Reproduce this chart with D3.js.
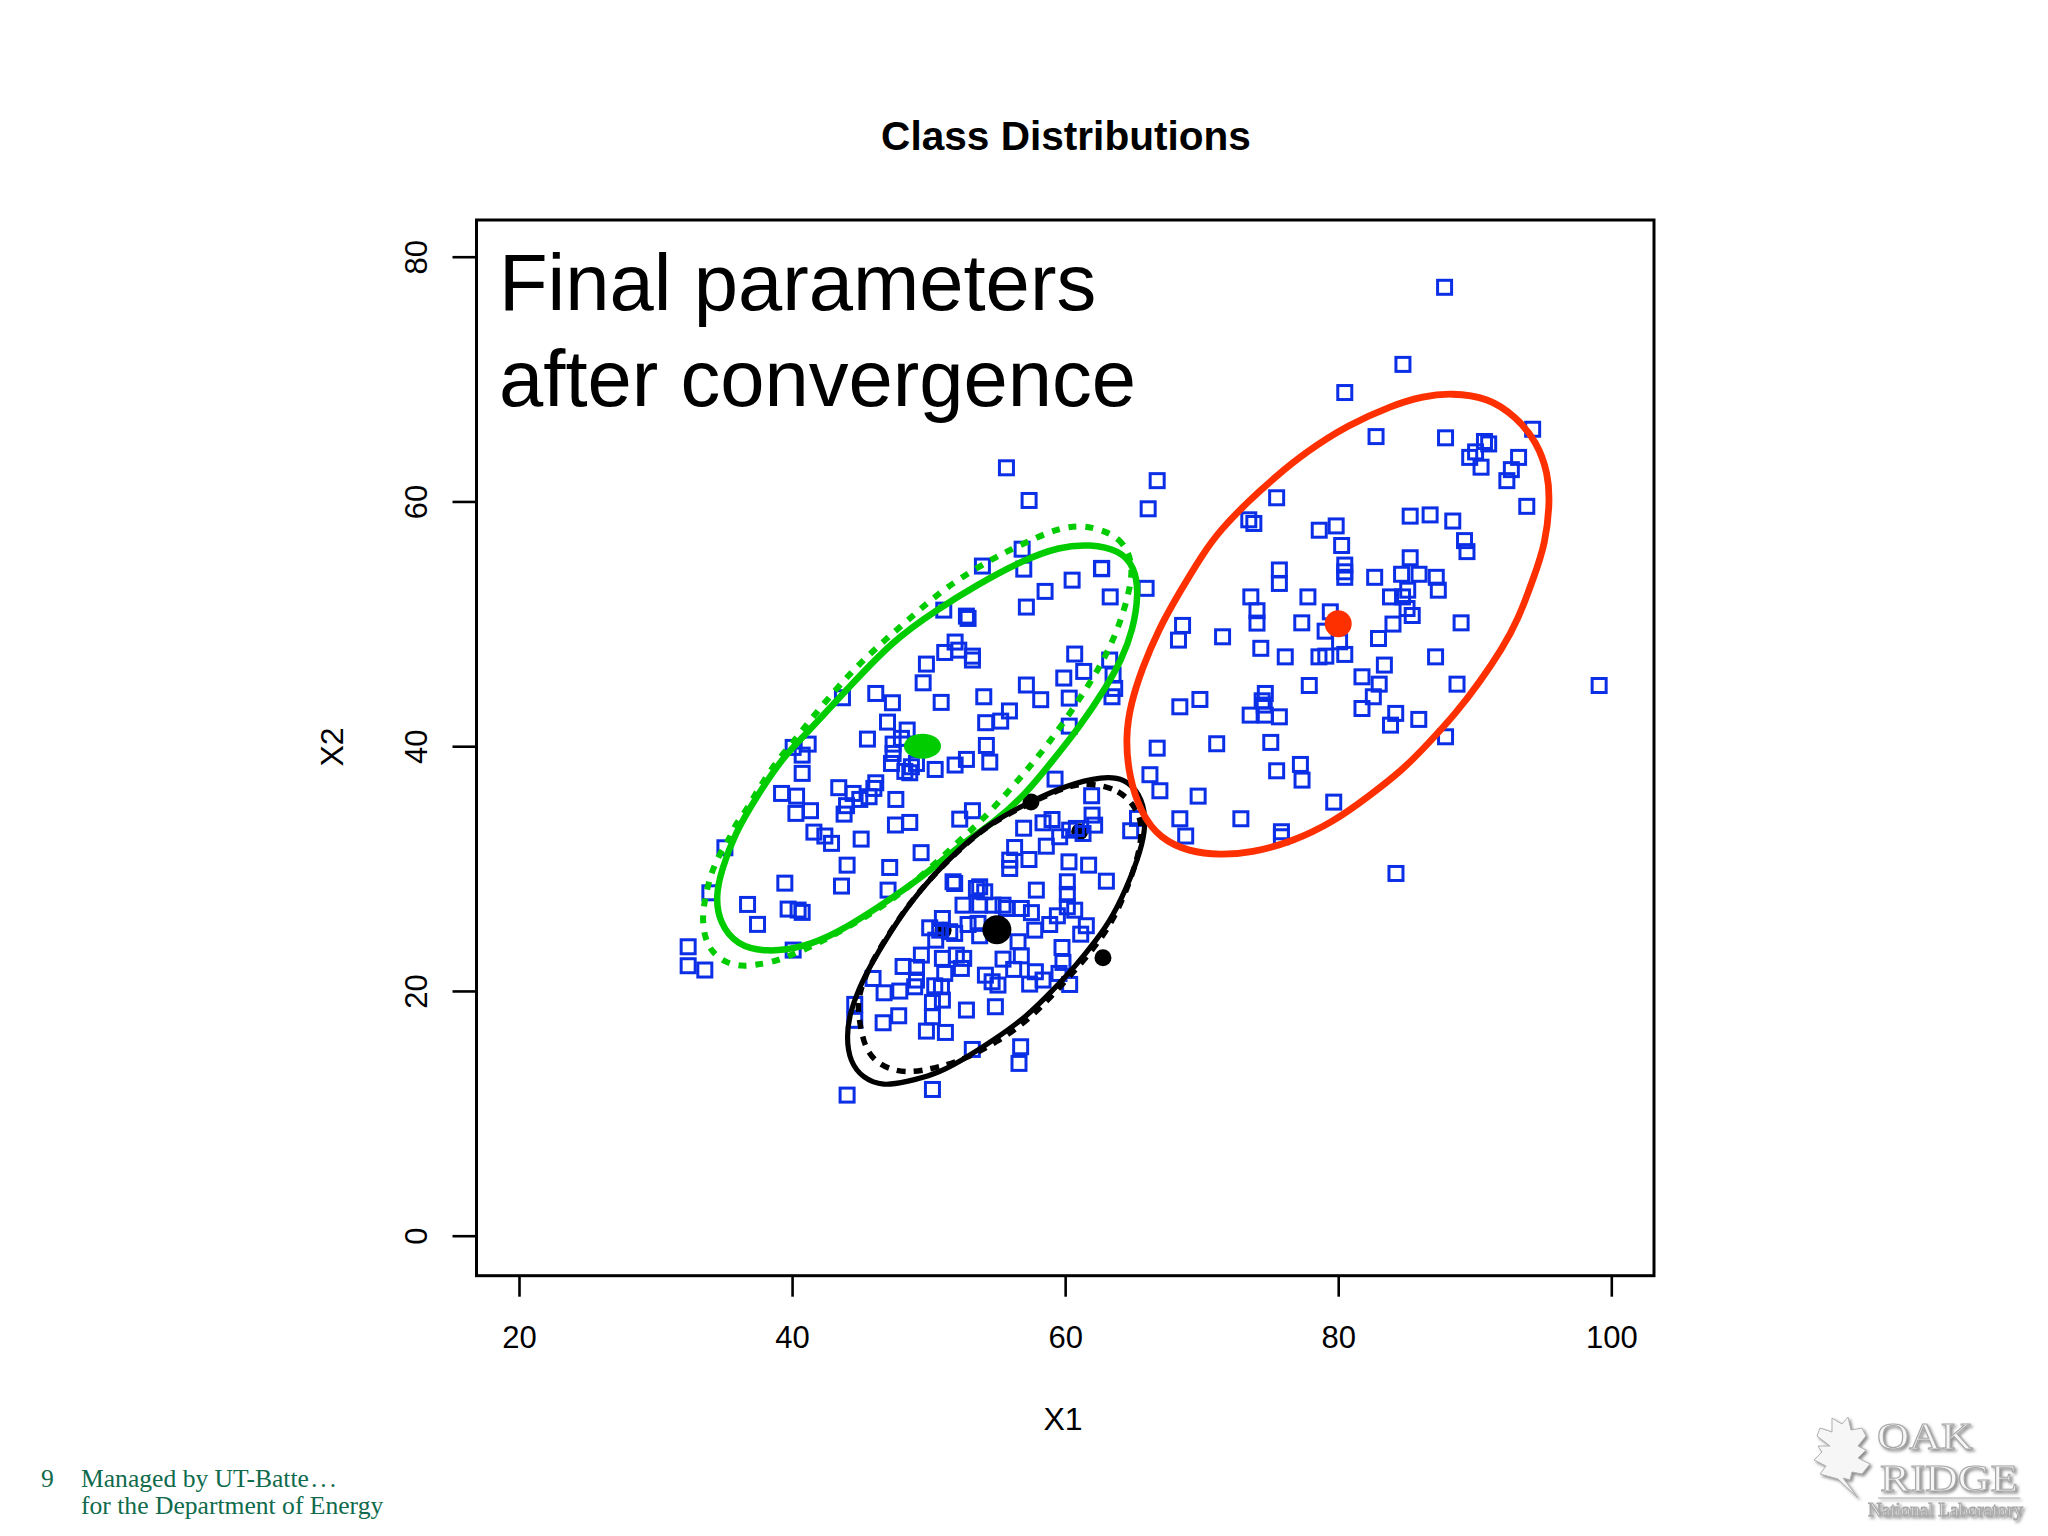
<!DOCTYPE html>
<html>
<head>
<meta charset="utf-8">
<script src="https://cdn.jsdelivr.net/npm/d3@7"></script>
<style>
  html, body { margin: 0; padding: 0; background: #fff; }
  svg { display: block; }
  text { font-family: "Liberation Sans", Arial, sans-serif; fill: #000; }
</style>
</head>
<body>
<svg id="chart" width="2048" height="1536"></svg>
<script>
// x1, x2
const rightPts = [
  [87.79,77.5],[84.74,71.2],[80.48,68.9],[66.74,61.7],[66.08,59.4],[94.24,65.9],[82.77,65.3],[87.86,65.2],
  [90.71,64.9],[91.02,64.7],[90.06,64.05],[89.63,63.6],[90.46,62.8],[93.21,63.6],[92.68,62.6],[92.35,61.7],
  [93.81,59.6],[75.49,60.3],[73.45,58.5],[73.82,58.2],[78.61,57.65],[79.85,58.0],[80.25,56.4],[75.69,54.4],
  [75.69,53.3],[80.48,54.8],[80.48,54.25],[80.48,53.8],[85.27,58.8],[86.73,58.9],[88.39,58.4],[89.25,56.8],
  [89.43,55.9],[85.27,55.4],[82.67,53.8],[84.64,54.05],[85.92,54.05],[87.18,53.8],[87.33,52.75],[85.09,52.75],
  [83.83,52.2],[84.71,52.2],[73.6,52.2],[77.78,52.2],[65.93,52.9],[85.04,51.25],[85.42,50.68],[74.05,51.07],
  [74.05,50.06],[79.42,50.98],[77.33,50.08],[79.04,49.4],[84.01,49.98],[89.0,50.08],[82.95,48.8],[68.6,49.87],
  [68.3,48.67],[71.53,48.94],[74.33,48.0],[76.12,47.3],[80.1,48.53],[78.59,47.3],[79.09,47.36],[80.48,47.5],
  [87.13,47.3],[83.38,46.63],[81.74,45.67],[83.0,45.07],[88.7,45.07],[99.11,44.96],[82.57,44.04],[81.74,43.08],
  [84.21,42.68],[83.83,41.72],[85.9,42.19],[87.86,40.77],[77.88,44.96],[74.66,44.31],[74.43,43.71],[74.58,43.36],
  [69.87,43.82],[68.4,43.22],[73.55,42.54],[74.66,42.54],[75.69,42.4],[66.74,39.84],[71.1,40.2],[75.06,40.31],
  [66.21,37.67],[66.94,36.36],[75.49,37.99],[77.23,38.51],[77.35,37.23],[69.74,35.92],[79.67,35.43],[72.87,34.07],
  [68.4,34.07],[68.83,32.66],[75.84,33.01],[75.84,32.6],[84.23,29.6],[64.8,33.09],[65.3,34.1]
];
const upperPts = [
  [55.7,62.75],[57.36,60.08],[56.85,56.1],[56.97,54.47],[53.94,54.72],[62.68,54.53],[60.51,53.57],[58.53,52.65],
  [57.16,51.37],[63.3,52.2],[62.66,54.5],[51.11,51.12],[52.77,50.63],[52.89,50.44],[51.94,48.51],[51.18,47.66],
  [52.21,47.85],[53.21,47.36],[53.21,47.04],[49.84,46.71],[49.6,45.18],[60.7,47.53],[61.36,46.11],[63.26,47.04],
  [63.51,45.81],[63.63,44.72],[63.43,44.04],[59.9,45.57],[57.16,45.0],[58.21,43.8],[60.3,43.93],[60.3,41.64],
  [43.69,43.96],[46.13,44.31],[47.35,43.55],[50.92,43.58],[54.04,44.04],[46.99,41.97],[48.43,41.32],[55.92,42.88],
  [55.28,42.05],[54.18,41.92],[45.52,40.58],[40.08,39.9],[41.18,40.17],[40.74,39.27],[47.4,40.17],[48.01,40.64],
  [47.4,39.41],[47.28,38.59],[54.23,40.06],[49.11,38.59],[52.77,38.92],[51.94,38.46],[54.48,38.7],[50.48,38.1],
  [48.26,37.94],[48.62,37.83],[48.74,38.32],[40.74,37.78],[39.23,36.14],[40.33,35.92],[40.28,34.51],[41.35,34.73],
  [43.42,36.61],[44.47,36.14],[44.96,35.65],[46.13,37.01],[45.99,36.55],[45.64,35.87],[43.99,35.14],[43.81,34.45],
  [47.6,35.65],[47.57,33.56],[48.62,33.77],[41.6,32.98],[42.4,32.66],[42.89,32.06],[45.06,32.41],[49.45,31.3],
  [35.08,31.7],[59.26,37.31],[52.28,34.04],[53.21,34.73],[33.98,28.02],[39.47,28.81],[36.74,27.07],[37.47,25.44],
  [39.71,26.69],[40.44,26.61],[40.74,26.42],[40.08,23.34],[32.39,23.61],[32.39,22.06],[33.61,21.71]
];
const lowerPts = [
  [61.94,35.95],[61.97,34.37],[62.16,33.55],[63.02,28.97],[61.72,30.28],[60.28,30.55],[60.16,28.92],[60.16,27.89],
  [60.16,26.88],[60.7,26.6],[57.89,28.24],[56.96,33.3],[58.38,33.74],[59.04,34.01],[59.6,32.6],[58.62,31.83],
  [57.35,30.74],[56.3,31.72],[55.94,30.69],[55.94,30.01],[60.82,33.28],[61.31,32.87],[60.33,33.14],[44.03,30.28],
  [43.62,28.57],[47.15,30.09],[47.03,28.24],[51.79,28.92],[51.91,28.78],[53.74,28.51],[53.5,28.37],[54.11,28.1],
  [52.52,27.01],[53.74,27.01],[54.72,27.01],[55.45,27.01],[55.7,26.74],[56.79,26.74],[57.53,26.4],[59.43,26.14],
  [58.87,25.43],[57.77,24.97],[52.89,25.43],[51.01,25.92],[50.08,25.16],[50.81,24.97],[51.55,24.84],[51.91,24.7],
  [53.62,25.52],[53.74,24.51],[50.52,24.15],[56.55,24.02],[61.55,25.33],[61.14,24.64],[59.77,23.55],[49.47,22.93],
  [48.13,22.0],[49.11,21.92],[49.11,20.89],[48.98,20.34],[45.93,21.02],[46.74,19.85],[47.89,19.99],[51.01,22.66],
  [52.03,22.93],[52.57,22.66],[51.18,21.43],[52.4,21.84],[55.45,22.6],[56.79,22.87],[56.23,21.76],[57.82,21.57],
  [59.84,22.33],[54.16,21.29],[54.65,20.75],[55.08,20.48],[57.4,20.56],[58.38,20.89],[59.55,21.43],[60.33,20.53],
  [50.45,20.42],[50.94,20.34],[50.28,19.06],[51.01,19.25],[50.28,17.89],[49.84,16.72],[51.23,16.61],[52.77,18.44],
  [54.89,18.71],[47.81,17.97],[46.67,17.4],[44.59,18.9],[44.59,17.6],[53.2,15.22],[56.74,15.44],[56.62,14.08],
  [44.03,11.49],[50.28,11.95]
];

// outlines of the ellipses
const redOutline = [
  [88.24,68.87],[91.01,68.49],[93.03,66.91],[94.55,64.87],[95.38,62.28],[95.5,59.83],[95.17,56.56],[94.34,53.84],
  [93.16,50.3],[92.02,47.99],[90.38,45.26],[88.62,42.68],[86.48,40.09],[84.71,38.05],[82.19,35.87],[79.67,33.83],
  [76.65,32.19],[73.62,31.29],[71.35,31.1],[69.08,31.37],[66.94,32.46],[65.56,34.51],[64.67,37.5],[64.42,40.77],
  [64.8,43.49],[65.68,46.49],[66.82,49.48],[68.2,52.25],[70.09,55.74],[71.35,57.65],[73.37,59.97],[75.39,62.01],
  [77.65,64.05],[80.68,66.23],[83.96,67.86],[86.23,68.6]
];
const greenOutline = [
  [61.8,56.51],[63.99,56.02],[65.09,54.66],[65.39,52.48],[64.97,49.49],[64.12,47.04],[63.02,44.86],[61.07,41.59],
  [59.11,38.87],[57.16,36.14],[54.72,33.69],[52.28,31.92],[49.6,29.33],[46.18,26.74],[43.25,24.7],[40.81,23.56],
  [38.13,23.15],[35.93,23.75],[34.71,25.52],[34.39,27.7],[34.83,29.88],[35.81,32.87],[37.39,35.87],[39.35,39.13],
  [41.06,41.04],[43.74,44.31],[47.4,48.67],[50.57,51.12],[53.5,53.16],[56.92,55.21],[59.6,56.3]
];
const greenDashed = [
  [61.8,57.98],[64.12,57.11],[65.0,54.93],[64.73,52.76],[64.04,50.09],[63.02,47.44],[61.8,45.13],[60.38,42.73],
  [58.87,40.36],[57.41,38.32],[55.82,36.28],[54.11,34.16],[52.28,32.3],[50.45,30.37],[48.62,28.6],[46.67,26.88],
  [42.27,24.02],[38.86,22.39],[37.52,22.17],[36.3,21.98],[35.08,22.33],[34.1,23.2],[33.61,24.37],[33.44,25.71],
  [33.54,27.02],[33.81,28.51],[34.17,29.88],[34.71,31.24],[35.44,32.46],[35.81,33.55],[36.66,34.78],[37.27,36.0],
  [37.88,37.09],[38.61,38.32],[39.35,39.4],[40.2,40.5],[40.93,41.59],[43.25,44.72],[44.96,46.76],[46.79,48.67],
  [48.62,50.44],[50.57,52.35],[52.65,53.98],[54.72,55.34],[55.94,56.02],[58.02,57.11],[59.36,57.71],[60.58,57.98]
];
const blackOutline = [
  [62.77,37.55],[64.36,37.36],[65.46,36.14],[65.94,34.23],[65.7,32.05],[64.85,29.33],[63.5,26.06],[62.28,24.15],
  [60.82,22.11],[59.11,20.07],[57.16,17.89],[54.96,16.12],[52.28,14.21],[50.33,13.12],[48.37,12.58],[46.67,12.22],
  [45.2,12.85],[44.23,14.21],[43.98,16.26],[44.23,18.16],[44.84,20.07],[45.81,22.25],[47.28,24.97],[48.62,27.15],
  [50.33,29.46],[52.28,31.64],[54.48,33.69],[57.16,35.32],[60.09,36.82]
];
const blackDashed = [
  [62.65,36.82],[63.92,36.35],[64.85,35.46],[65.58,34.09],[65.6,32.2],[64.95,29.5],[63.7,26.1],[62.4,23.9],
  [60.9,21.9],[59.2,19.8],[57.3,17.6],[55.0,15.8],[52.4,14.3],[50.94,13.86],[49.72,13.53],[48.42,13.34],
  [47.15,13.59],[46.06,14.27],[45.37,15.38],[45.08,16.66],[44.84,18.16],[44.84,19.6],[45.7,22.2],[47.2,24.85],
  [48.5,27.0],[50.2,29.3],[52.2,31.5],[54.4,33.6],[57.1,35.2],[60.0,36.65],[61.2,36.95]
];

// dots under the squares, and the means on top of them
const blackDots = [[62.77,22.71],[61.06,33.0],[51.06,24.97],[57.5,35.45]];
const greenMean = [49.55,40];
const redMean = [80,50];
const blackMean = [55,25];

const xTicks = [20, 40, 60, 80, 100];
const yTicks = [0, 20, 40, 60, 80];

const blue = "#0b2fe6", green = "#00cc00", red = "#ff3000";

const svg = d3.select("#chart");

// box is 476.5..1654 by 220..1275.7
const x = d3.scaleLinear().domain([20, 100]).range([519, 1611.3]);
const y = d3.scaleLinear().domain([0, 80]).range([1235.7, 256.7]);

const xAxis = svg.append("g")
  .attr("transform", "translate(0,1275.7)")
  .call(d3.axisBottom(x).tickValues(xTicks).tickSize(21).tickPadding(0).tickFormat(d3.format("d")));
xAxis.select(".domain").remove();
xAxis.selectAll("line").attr("stroke", "#000").attr("stroke-width", 2.6);
xAxis.selectAll("text").attr("font-size", 31).attr("y", 72).attr("dy", 0)
  .style("font-family", "'Liberation Sans', Arial, sans-serif");

const yAxis = svg.append("g")
  .attr("transform", "translate(476.5,0)")
  .call(d3.axisLeft(y).tickValues(yTicks).tickSize(24).tickFormat(d3.format("d")));
yAxis.select(".domain").remove();
yAxis.selectAll("line").attr("stroke", "#000").attr("stroke-width", 2.6);
yAxis.selectAll("text")
  .attr("font-size", 31)
  .attr("x", null).attr("dy", 0)
  .attr("text-anchor", "middle")
  .attr("transform", "translate(-49.5,0) rotate(-90)")
  .style("font-family", "'Liberation Sans', Arial, sans-serif");

svg.append("rect")
  .attr("x", 476.5).attr("y", 220)
  .attr("width", 1654 - 476.5).attr("height", 1275.7 - 220)
  .attr("fill", "none").attr("stroke", "#000").attr("stroke-width", 3);

// titles
svg.append("text").attr("x", 1066).attr("y", 150).attr("text-anchor", "middle")
  .attr("font-size", 40.6).attr("font-weight", "bold").text("Class Distributions");
svg.append("text").attr("x", 1063).attr("y", 1430).attr("text-anchor", "middle")
  .attr("font-size", 32).text("X1");
svg.append("text").attr("transform", "translate(343,747) rotate(-90)").attr("text-anchor", "middle")
  .attr("font-size", 32).text("X2");

// the text over the plot
svg.append("text").attr("x", 499).attr("y", 310).attr("font-size", 79.6).text("Final parameters");
svg.append("text").attr("x", 499).attr("y", 406).attr("font-size", 79.6).text("after convergence");

// small black dots go under the squares
svg.append("g").selectAll("circle").data(blackDots).join("circle")
  .attr("cx", d => x(d[0])).attr("cy", d => y(d[1])).attr("r", 8.5).attr("fill", "#000");

svg.append("g").selectAll("rect").data(rightPts.concat(upperPts, lowerPts)).join("rect")
  .attr("x", d => x(d[0]) - 7).attr("y", d => y(d[1]) - 7)
  .attr("width", 14).attr("height", 14)
  .attr("fill", "none").attr("stroke", blue).attr("stroke-width", 3);

// basis smooths out the reading noise in the outlines
const closed = d3.line().x(d => x(d[0])).y(d => y(d[1])).curve(d3.curveBasisClosed);

function outline(pts, color, w, dash) {
  svg.append("path").attr("d", closed(pts))
    .attr("fill", "none").attr("stroke", color).attr("stroke-width", w)
    .attr("stroke-dasharray", dash || null);
}
outline(greenDashed, green, 6, "8 9");
outline(greenOutline, green, 6.5);
outline(blackDashed, "#000", 5.5, "9 8");
outline(blackOutline, "#000", 5.2);
outline(redOutline, red, 6.8);

// means
svg.append("ellipse").attr("cx", x(greenMean[0])).attr("cy", y(greenMean[1]))
  .attr("rx", 18.5).attr("ry", 12.5).attr("fill", green);
svg.append("circle").attr("cx", x(redMean[0])).attr("cy", y(redMean[1])).attr("r", 13.5).attr("fill", red);
svg.append("circle").attr("cx", x(blackMean[0])).attr("cy", y(blackMean[1])).attr("r", 14.5).attr("fill", "#000");

// footer
function foot(xp, yp, s) {
  return svg.append("text").attr("x", xp).attr("y", yp).attr("font-size", 25.6)
    .style("fill", "#0f6b4c").style("font-family", "'Liberation Serif', serif").text(s);
}
foot(41, 1487, "9");
foot(81, 1487, "Managed by UT-Batte").append("tspan").attr("dx", 2).style("letter-spacing", "3px").text("...");
foot(81, 1514, "for the Department of Energy");

// logo, embossed look: one drop shadow filter on the whole group
const shadow = svg.append("defs").append("filter").attr("id", "emboss")
  .attr("x", "-5%").attr("y", "-5%").attr("width", "110%").attr("height", "110%");
shadow.append("feDropShadow").attr("dx", 2).attr("dy", 2).attr("stdDeviation", 1.8)
  .attr("flood-color", "#808080").attr("flood-opacity", 0.9);

const leaf = "M1832,1418 L1842,1424 L1848,1417 L1851,1430 L1862,1428 L1866,1436 L1858,1446 L1866,1450 L1858,1458 L1870,1464 L1862,1474 L1852,1472 L1850,1480 L1843,1478 L1858,1498 L1838,1479 L1820,1474 L1826,1466 L1814,1460 L1822,1452 L1818,1446 L1830,1446 L1817,1436 L1820,1428 L1832,1432 Z";

const logo = svg.append("g").attr("filter", "url(#emboss)");
logo.append("path").attr("d", leaf).attr("fill", "#f6f6f6").attr("stroke", "#b0b0b0").attr("stroke-width", 1);
function logoText(xp, yp, size, len, s) {
  logo.append("text").attr("x", xp).attr("y", yp)
    .attr("font-size", size).attr("textLength", len).attr("lengthAdjust", "spacingAndGlyphs")
    .style("font-family", "'Liberation Serif', serif").style("fill", "#f6f6f6")
    .attr("stroke", "#a8a8a8").attr("stroke-width", 1).text(s);
}
logoText(1877, 1449, 37, 96, "OAK");
logoText(1880, 1491, 37, 138, "RIDGE");
logoText(1868, 1516, 19, 155, "National Laboratory");
logo.append("line").attr("x1", 1878).attr("x2", 2020).attr("y1", 1498).attr("y2", 1498)
  .attr("stroke", "#a8a8a8").attr("stroke-width", 1.2);
</script>
</body>
</html>
